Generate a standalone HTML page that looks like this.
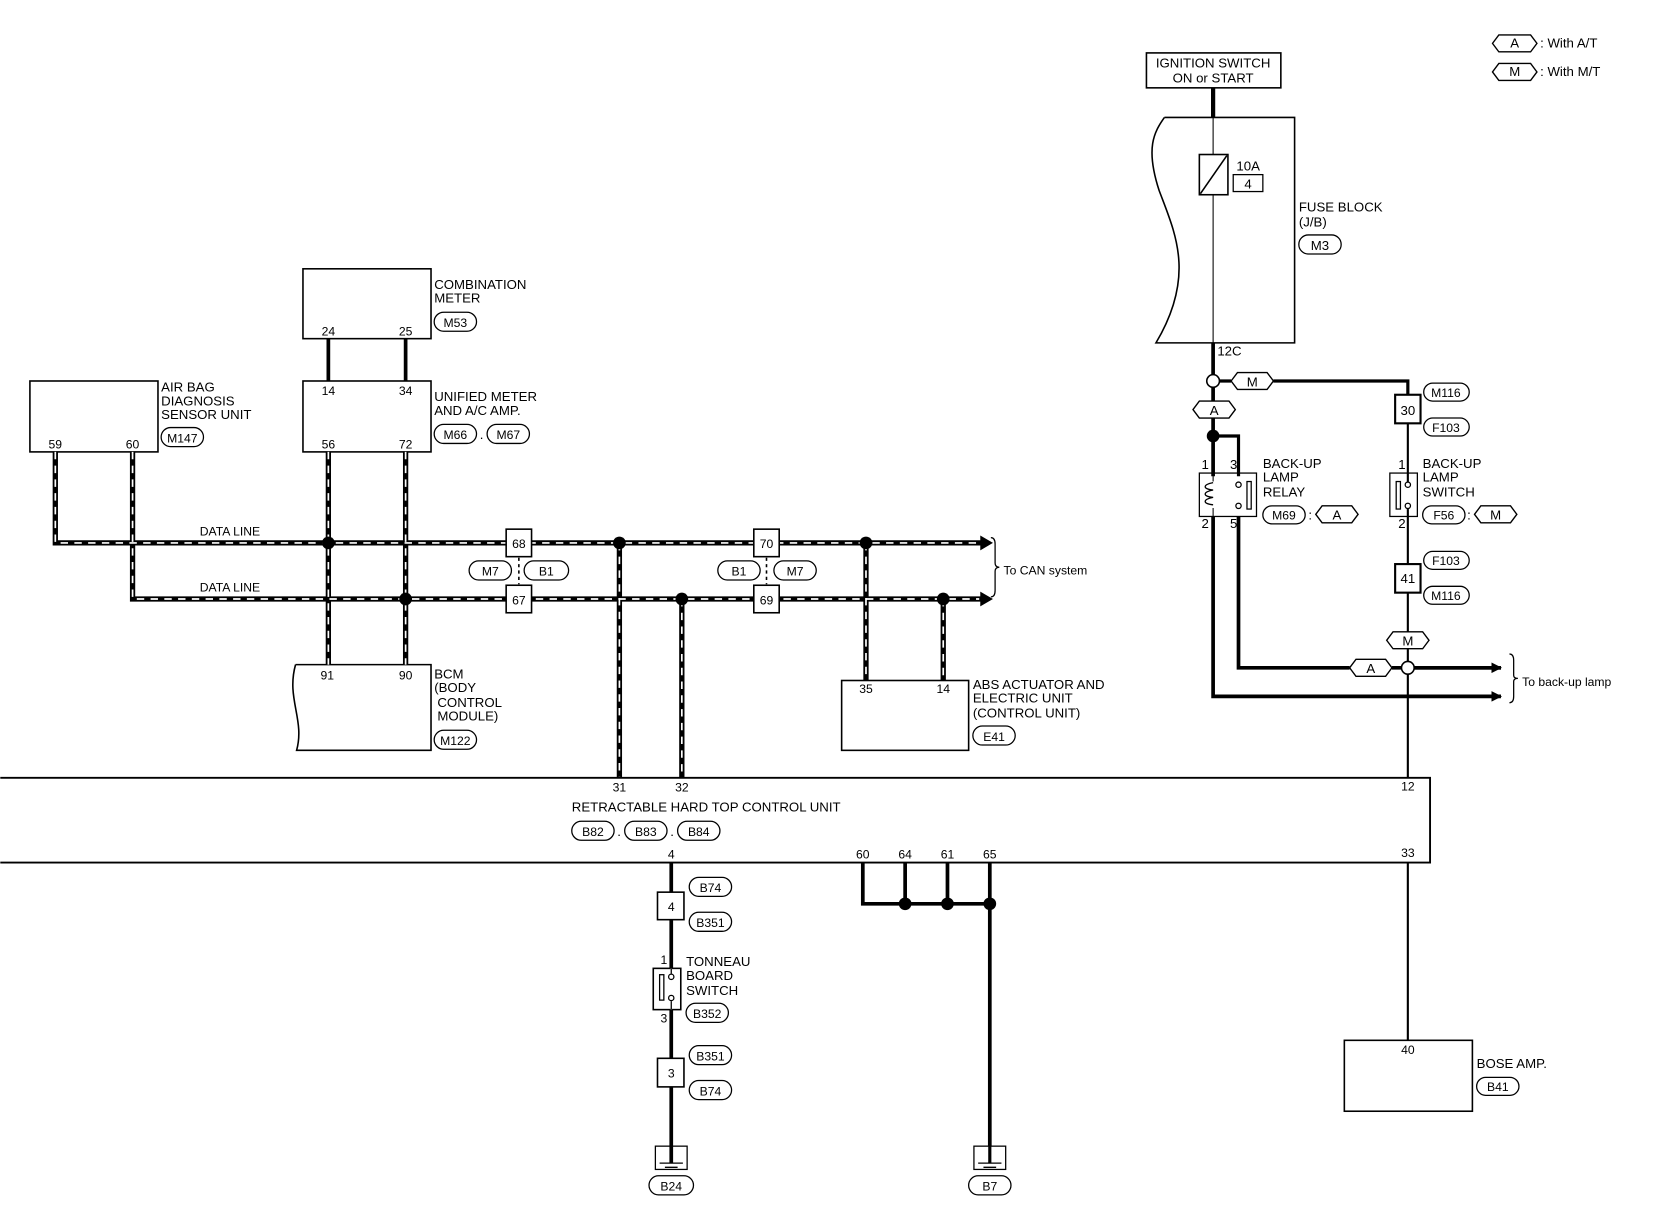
<!DOCTYPE html>
<html><head><meta charset="utf-8"><style>
html,body{margin:0;padding:0;background:#fff;}
svg{display:block;}
text{font-family:"Liberation Sans",sans-serif;font-size:12.5px;fill:#000;}
.s{font-size:11.5px;}
</style></head><body>
<svg width="1660" height="1216" viewBox="0 0 1568 1149" xmlns="http://www.w3.org/2000/svg">
<defs>
<marker id="ar" markerWidth="10" markerHeight="10" refX="9" refY="5" orient="auto" markerUnits="userSpaceOnUse">
<path d="M0,0 L10,5 L0,10 Z" fill="#000"/></marker>
</defs>
<g fill="none" stroke="#000">
<!-- legend -->
<path d="M1410,41 l6,-8 h30 l6,8 l-6,8 h-30 z" stroke-width="1.3"/>
<path d="M1410,68 l6,-8 h30 l6,8 l-6,8 h-30 z" stroke-width="1.3"/>
<!-- ignition -->
<rect x="1083" y="50" width="127" height="33" stroke-width="1.5"/>
<line x1="1146" y1="83" x2="1146" y2="111" stroke-width="4"/>
<path d="M1100,111 H1223 V324 H1092 C1130,260 1110,220 1095,180 C1082,140 1090,125 1100,111" stroke-width="1.5"/>
<line x1="1146" y1="111" x2="1146" y2="324" stroke-width="1"/>
<rect x="1133" y="146" width="27" height="38" stroke-width="1.5" fill="#fff"/>
<line x1="1134" y1="183" x2="1159" y2="147" stroke-width="1.5"/>
<rect x="1165" y="165" width="28" height="16" stroke-width="1.2"/>
<rect x="1227" y="222" width="40" height="18" rx="9" stroke-width="1.2"/>
<!-- 12C wire -->
<line x1="1146" y1="324" x2="1146" y2="354" stroke-width="3.5"/>
<path d="M1152,360 H1163 M1203,360 H1330 V373" stroke-width="3"/>
<path d="M1163,360 l6,-8 h28 l6,8 l-6,8 h-28 z" stroke-width="1.3" fill="#fff"/>
<line x1="1146" y1="366" x2="1146" y2="450" stroke-width="3.5"/>
<path d="M1127,387 l6,-8 h28 l6,8 l-6,8 h-28 z" stroke-width="1.3" fill="#fff"/>
<path d="M1146,412 H1170 V450" stroke-width="3"/>
<rect x="1318" y="373" width="24" height="27" stroke-width="2"/>
<rect x="1345" y="362" width="43" height="17" rx="8.5" stroke-width="1.2"/>
<rect x="1345" y="395" width="43" height="17" rx="8.5" stroke-width="1.2"/>
<!-- relay -->
<rect x="1133" y="447" width="54" height="41" stroke-width="1.2"/>
<path d="M1146,447 v8 M1146,480 v8" stroke-width="1"/>
<path d="M1146,456 c-10,2 -10,6 0,7 c-10,2 -10,6 0,7 c-10,2 -10,6 0,7" stroke-width="1.2"/>
<circle cx="1170" cy="458" r="2.5" stroke-width="1.2"/>
<circle cx="1170" cy="478" r="2.5" stroke-width="1.2"/>
<rect x="1178" y="455" width="4" height="26" stroke-width="1.2"/>
<path d="M1146,488 V658 H1418" stroke-width="3.5" marker-end="url(#ar)"/>
<path d="M1170,488 V631 H1275 M1315,631 H1324 M1336,631 H1418" stroke-width="3.5"/>
<path d="M1336,631 H1418" stroke-width="3.5" marker-end="url(#ar)"/>
<path d="M1275,631 l6,-8 h28 l6,8 l-6,8 h-28 z" stroke-width="1.3" fill="#fff"/>
<circle cx="1330" cy="631" r="6" stroke-width="1.5" fill="#fff"/>
<path d="M1426,618 q4,0 4,6 v14 q0,3 4,3 q-4,0 -4,3 v14 q0,6 -4,6" stroke-width="1.2"/>
<rect x="1193" y="478" width="40" height="17" rx="8.5" stroke-width="1.2"/>
<path d="M1243,486 l6,-8 h28 l6,8 l-6,8 h-28 z" stroke-width="1.3"/>
<!-- switch -->
<rect x="1313" y="447" width="26" height="41" stroke-width="1.2"/>
<line x1="1330" y1="400" x2="1330" y2="455" stroke-width="2"/>
<line x1="1330" y1="481" x2="1330" y2="533" stroke-width="2"/>
<circle cx="1330" cy="458" r="2.5" stroke-width="1.2"/>
<circle cx="1330" cy="478" r="2.5" stroke-width="1.2"/>
<rect x="1319" y="455" width="4" height="26" stroke-width="1.2"/>
<rect x="1344" y="478" width="40" height="17" rx="8.5" stroke-width="1.2"/>
<path d="M1393,486 l6,-8 h28 l6,8 l-6,8 h-28 z" stroke-width="1.3"/>
<rect x="1318" y="533" width="24" height="27" stroke-width="2"/>
<rect x="1345" y="521" width="43" height="17" rx="8.5" stroke-width="1.2"/>
<rect x="1345" y="554" width="43" height="17" rx="8.5" stroke-width="1.2"/>
<line x1="1330" y1="560" x2="1330" y2="625" stroke-width="2"/>
<line x1="1330" y1="637" x2="1330" y2="735" stroke-width="2"/>
<path d="M1310,605 l6,-8 h28 l6,8 l-6,8 h-28 z" stroke-width="1.3" fill="#fff"/>
<line x1="1330" y1="815" x2="1330" y2="983" stroke-width="2"/>
<rect x="1270" y="983" width="121" height="67" stroke-width="1.5"/>
<rect x="1395" y="1018" width="40" height="17" rx="8.5" stroke-width="1.2"/>
<!-- left modules -->
<rect x="286" y="254" width="121" height="66" stroke-width="1.5"/>
<rect x="286" y="360" width="121" height="67" stroke-width="1.5"/>
<line x1="310" y1="320" x2="310" y2="360" stroke-width="3.5"/>
<line x1="383" y1="320" x2="383" y2="360" stroke-width="3.5"/>
<rect x="410" y="295" width="40" height="18" rx="9" stroke-width="1.2"/>
<rect x="410" y="401" width="40" height="18" rx="9" stroke-width="1.2"/>
<rect x="460" y="401" width="40" height="18" rx="9" stroke-width="1.2"/>
<rect x="28" y="360" width="121" height="67" stroke-width="1.5"/>
<rect x="152" y="404" width="40" height="18" rx="9" stroke-width="1.2"/>
<path d="M279,628 H407 V709 H280 C288,680 270,660 279,628" stroke-width="1.5"/>
<rect x="410" y="690" width="40" height="18" rx="9" stroke-width="1.2"/>
<rect x="795" y="643" width="120" height="66" stroke-width="1.5"/>
<rect x="919" y="686" width="40" height="18" rx="9" stroke-width="1.2"/>
<!-- data lines -->
<g stroke-width="5">
<path d="M52,427 V513 H928"/><path d="M125,427 V566 H928"/>
<path d="M310,427 V628"/><path d="M383,427 V628"/>
<path d="M585,513 V735"/><path d="M644,566 V735"/>
<path d="M818,513 V643"/><path d="M891,566 V643"/>
</g>
<g stroke="#fff" stroke-width="1.6" stroke-dasharray="7,6">
<path d="M52,427 V513 H925"/><path d="M125,427 V566 H925"/>
<path d="M310,427 V628"/><path d="M383,427 V628"/>
<path d="M585,513 V735"/><path d="M644,566 V735"/>
<path d="M818,513 V643"/><path d="M891,566 V643"/>
</g>
<path d="M926,506 L938,513 L926,520 Z M926,559 L938,566 L926,573 Z" fill="#000" stroke="none"/>
<path d="M936,508 q4,0 4,6 v18 q0,4 4,4 q-4,0 -4,4 v18 q0,6 -4,6" stroke-width="1.2"/>
<rect x="478" y="500" width="24" height="26" stroke-width="1.5" fill="#fff"/>
<rect x="478" y="553" width="24" height="26" stroke-width="1.5" fill="#fff"/>
<line x1="490" y1="527" x2="490" y2="552" stroke-width="1.5" stroke-dasharray="3,3"/>
<rect x="443" y="530" width="40" height="18" rx="9" stroke-width="1.2"/>
<rect x="495" y="530" width="42" height="18" rx="9" stroke-width="1.2"/>
<rect x="712" y="500" width="24" height="26" stroke-width="1.5" fill="#fff"/>
<rect x="712" y="553" width="24" height="26" stroke-width="1.5" fill="#fff"/>
<line x1="724" y1="527" x2="724" y2="552" stroke-width="1.5" stroke-dasharray="3,3"/>
<rect x="678" y="530" width="40" height="18" rx="9" stroke-width="1.2"/>
<rect x="731" y="530" width="40" height="18" rx="9" stroke-width="1.2"/>
<!-- control unit -->
<path d="M0,735 H1351 V815 H0" stroke-width="1.8"/>
<rect x="540" y="776" width="40" height="18" rx="9" stroke-width="1.2"/>
<rect x="590" y="776" width="40" height="18" rx="9" stroke-width="1.2"/>
<rect x="640" y="776" width="40" height="18" rx="9" stroke-width="1.2"/>
<!-- ground grid -->
<path d="M815,815 V854 H935 M855,815 V854 M895,815 V854 M935,815 V1085" stroke-width="3.5"/>
<rect x="920" y="1083" width="30" height="22" stroke-width="1.2" fill="#fff"/>
<rect x="915" y="1111" width="40" height="18" rx="9" stroke-width="1.2"/>
<path d="M924,1099 h22 M929,1103 h12" stroke-width="1.2"/>
<line x1="935" y1="1083" x2="935" y2="1099" stroke-width="3"/>
<!-- tonneau branch -->
<line x1="634" y1="815" x2="634" y2="1099" stroke-width="3.5"/>
<rect x="621" y="843" width="25" height="26" stroke-width="1.5" fill="#fff"/>
<rect x="651" y="829" width="40" height="18" rx="9" stroke-width="1.2"/>
<rect x="651" y="862" width="40" height="18" rx="9" stroke-width="1.2"/>
<rect x="617" y="915" width="26" height="39" stroke-width="1.5" fill="#fff"/>
<line x1="634" y1="915" x2="634" y2="954" stroke-width="1.5" stroke="#fff"/>
<line x1="634" y1="915" x2="634" y2="920" stroke-width="1.2"/>
<line x1="634" y1="946" x2="634" y2="954" stroke-width="1.2"/>
<circle cx="634" cy="923" r="2.5" stroke-width="1.2"/>
<circle cx="634" cy="943" r="2.5" stroke-width="1.2"/>
<rect x="623" y="921" width="4" height="24" stroke-width="1.2"/>
<rect x="648" y="948" width="40" height="18" rx="9" stroke-width="1.2"/>
<rect x="651" y="988" width="40" height="18" rx="9" stroke-width="1.2"/>
<rect x="621" y="1000" width="25" height="27" stroke-width="1.5" fill="#fff"/>
<rect x="651" y="1021" width="40" height="18" rx="9" stroke-width="1.2"/>
<rect x="619" y="1083" width="30" height="22" stroke-width="1.2" fill="none"/>
<path d="M623,1099 h22 M628,1103 h12" stroke-width="1.2"/>
<rect x="613" y="1111" width="42" height="18" rx="9" stroke-width="1.2"/>
</g>
<g fill="#000">
<circle cx="1146" cy="412" r="6"/>
<circle cx="310" cy="513" r="6"/><circle cx="383" cy="566" r="6"/>
<circle cx="585" cy="513" r="6"/><circle cx="644" cy="566" r="6"/>
<circle cx="818" cy="513" r="6"/><circle cx="891" cy="566" r="6"/>
<circle cx="855" cy="854" r="6"/><circle cx="895" cy="854" r="6"/><circle cx="935" cy="854" r="6"/>
</g>
<circle cx="1146" cy="360" r="6" fill="#fff" stroke="#000" stroke-width="1.5"/>
<g>
<text x="1431" y="45" text-anchor="middle">A</text><text x="1455" y="45">: With A/T</text>
<text x="1431" y="72" text-anchor="middle">M</text><text x="1455" y="72">: With M/T</text>
<text x="1146" y="64" text-anchor="middle">IGNITION SWITCH</text>
<text x="1146" y="78" text-anchor="middle">ON or START</text>
<text x="1168" y="161">10A</text><text x="1179" y="178" text-anchor="middle">4</text>
<text x="1227" y="200">FUSE BLOCK</text><text x="1227" y="214">(J/B)</text>
<text x="1247" y="236" text-anchor="middle">M3</text>
<text x="1150" y="336">12C</text>
<text x="1183" y="365" text-anchor="middle">M</text>
<text x="1147" y="392" text-anchor="middle">A</text>
<text x="1330" y="392" text-anchor="middle">30</text>
<text x="1366" y="375" text-anchor="middle" class="s">M116</text>
<text x="1366" y="408" text-anchor="middle" class="s">F103</text>
<text x="1135" y="443">1</text><text x="1162" y="443">3</text>
<text x="1135" y="499">2</text><text x="1162" y="499">5</text>
<text x="1193" y="442">BACK-UP</text><text x="1193" y="455">LAMP</text><text x="1193" y="469">RELAY</text>
<text x="1213" y="491" text-anchor="middle" class="s">M69</text><text x="1236" y="491">:</text>
<text x="1263" y="491" text-anchor="middle">A</text>
<text x="1321" y="443">1</text><text x="1321" y="499">2</text>
<text x="1344" y="442">BACK-UP</text><text x="1344" y="455">LAMP</text><text x="1344" y="469">SWITCH</text>
<text x="1364" y="491" text-anchor="middle" class="s">F56</text><text x="1386" y="491">:</text>
<text x="1413" y="491" text-anchor="middle">M</text>
<text x="1330" y="551" text-anchor="middle">41</text>
<text x="1366" y="534" text-anchor="middle" class="s">F103</text>
<text x="1366" y="567" text-anchor="middle" class="s">M116</text>
<text x="1330" y="610" text-anchor="middle">M</text>
<text x="1295" y="636" text-anchor="middle">A</text>
<text x="1438" y="648" class="s">To back-up lamp</text>
<text x="1330" y="747" text-anchor="middle" class="s">12</text>
<text x="1330" y="810" text-anchor="middle" class="s">33</text>
<text x="1330" y="996" text-anchor="middle" class="s">40</text>
<text x="1395" y="1009">BOSE AMP.</text>
<text x="1415" y="1031" text-anchor="middle" class="s">B41</text>
<text x="410" y="273">COMBINATION</text><text x="410" y="286">METER</text>
<text x="430" y="309" text-anchor="middle" class="s">M53</text>
<text x="310" y="317" text-anchor="middle" class="s">24</text><text x="383" y="317" text-anchor="middle" class="s">25</text>
<text x="310" y="373" text-anchor="middle" class="s">14</text><text x="383" y="373" text-anchor="middle" class="s">34</text>
<text x="310" y="424" text-anchor="middle" class="s">56</text><text x="383" y="424" text-anchor="middle" class="s">72</text>
<text x="410" y="379">UNIFIED METER</text><text x="410" y="392">AND A/C AMP.</text>
<text x="430" y="415" text-anchor="middle" class="s">M66</text><text x="453" y="415">.</text>
<text x="480" y="415" text-anchor="middle" class="s">M67</text>
<text x="152" y="370">AIR BAG</text><text x="152" y="383">DIAGNOSIS</text><text x="152" y="396">SENSOR UNIT</text>
<text x="172" y="418" text-anchor="middle" class="s">M147</text>
<text x="52" y="424" text-anchor="middle" class="s">59</text><text x="125" y="424" text-anchor="middle" class="s">60</text>
<text x="217" y="506" text-anchor="middle" class="s">DATA LINE</text>
<text x="217" y="559" text-anchor="middle" class="s">DATA LINE</text>
<text x="490" y="518" text-anchor="middle" class="s">68</text><text x="490" y="571" text-anchor="middle" class="s">67</text>
<text x="463" y="544" text-anchor="middle" class="s">M7</text><text x="516" y="544" text-anchor="middle" class="s">B1</text>
<text x="724" y="518" text-anchor="middle" class="s">70</text><text x="724" y="571" text-anchor="middle" class="s">69</text>
<text x="698" y="544" text-anchor="middle" class="s">B1</text><text x="751" y="544" text-anchor="middle" class="s">M7</text>
<text x="948" y="543" class="s">To CAN system</text>
<text x="309" y="642" text-anchor="middle" class="s">91</text><text x="383" y="642" text-anchor="middle" class="s">90</text>
<text x="410" y="641">BCM</text><text x="410" y="654">(BODY</text><text x="413" y="668">CONTROL</text><text x="413" y="681">MODULE)</text>
<text x="430" y="704" text-anchor="middle" class="s">M122</text>
<text x="818" y="655" text-anchor="middle" class="s">35</text><text x="891" y="655" text-anchor="middle" class="s">14</text>
<text x="919" y="651">ABS ACTUATOR AND</text><text x="919" y="664">ELECTRIC UNIT</text><text x="919" y="678">(CONTROL UNIT)</text>
<text x="939" y="700" text-anchor="middle" class="s">E41</text>
<text x="585" y="748" text-anchor="middle" class="s">31</text><text x="644" y="748" text-anchor="middle" class="s">32</text>
<text x="540" y="767">RETRACTABLE HARD TOP CONTROL UNIT</text>
<text x="560" y="790" text-anchor="middle" class="s">B82</text><text x="583" y="790">.</text>
<text x="610" y="790" text-anchor="middle" class="s">B83</text><text x="633" y="790">.</text>
<text x="660" y="790" text-anchor="middle" class="s">B84</text>
<text x="634" y="811" text-anchor="middle" class="s">4</text>
<text x="815" y="811" text-anchor="middle" class="s">60</text><text x="855" y="811" text-anchor="middle" class="s">64</text>
<text x="895" y="811" text-anchor="middle" class="s">61</text><text x="935" y="811" text-anchor="middle" class="s">65</text>
<text x="634" y="861" text-anchor="middle" class="s">4</text>
<text x="671" y="843" text-anchor="middle" class="s">B74</text>
<text x="671" y="876" text-anchor="middle" class="s">B351</text>
<text x="627" y="911" text-anchor="middle" class="s">1</text><text x="627" y="966" text-anchor="middle" class="s">3</text>
<text x="648" y="913">TONNEAU</text><text x="648" y="926">BOARD</text><text x="648" y="940">SWITCH</text>
<text x="668" y="962" text-anchor="middle" class="s">B352</text>
<text x="671" y="1002" text-anchor="middle" class="s">B351</text>
<text x="634" y="1018" text-anchor="middle" class="s">3</text>
<text x="671" y="1035" text-anchor="middle" class="s">B74</text>
<text x="634" y="1125" text-anchor="middle" class="s">B24</text>
<text x="935" y="1125" text-anchor="middle" class="s">B7</text>
</g>
</svg>
</body></html>
